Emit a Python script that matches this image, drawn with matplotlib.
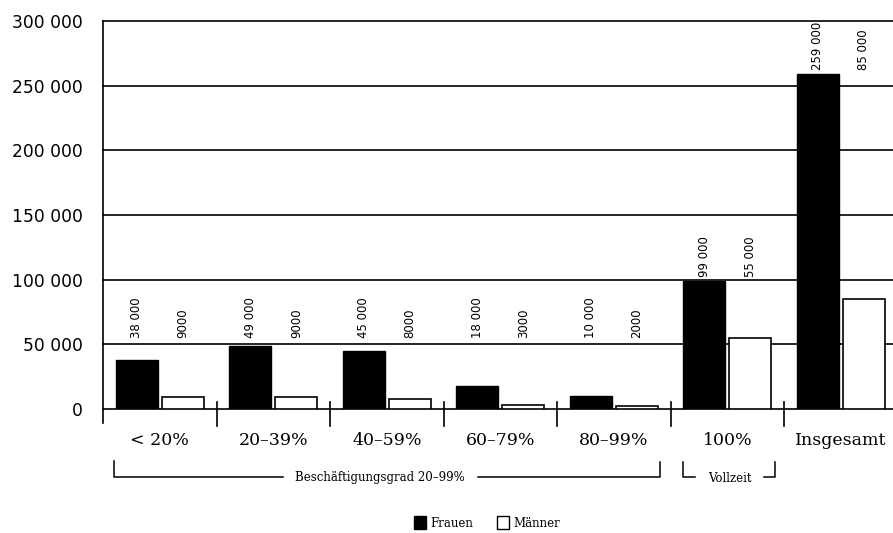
import matplotlib
matplotlib.use("Agg")
import matplotlib.pyplot as plt
import matplotlib.transforms as mtransforms
from matplotlib.patches import Patch
import numpy as np

categories = ["< 20%", "20–39%", "40–59%", "60–79%", "80–99%", "100%", "Insgesamt"]
frauen = [38000, 49000, 45000, 18000, 10000, 99000, 259000]
maenner = [9000, 9000, 8000, 3000, 2000, 55000, 85000]
frauen_labels = ["38 000", "49 000", "45 000", "18 000", "10 000", "99 000", "259 000"]
maenner_labels = ["9000", "9000", "8000", "3000", "2000", "55 000", "85 000"]
yticks = [0, 50000, 100000, 150000, 200000, 250000, 300000]
ytick_labels = ["0", "50 000", "100 000", "150 000", "200 000", "250 000", "300 000"]

W, H = 893, 533
fig = plt.figure(figsize=(W / 100, H / 100), dpi=100)
ax = fig.add_axes([103 / W, 1 - 409 / H, 1 - 103 / W, (409 - 21) / H])

x = np.arange(len(categories))
bw = 0.37
off = 0.203
ax.bar(x - off, frauen, bw, color="black", edgecolor="black", linewidth=1, zorder=3)
ax.bar(x + off, maenner, bw, color="white", edgecolor="black", linewidth=1.2, zorder=3)

for i in range(len(categories)):
    ly = max(55000, max(frauen[i], maenner[i]) + 3000)
    ax.text(x[i] - off, ly, frauen_labels[i], rotation=90, ha="center", va="bottom",
            fontsize=8.5, family="DejaVu Sans")
    ax.text(x[i] + off, ly, maenner_labels[i], rotation=90, ha="center", va="bottom",
            fontsize=8.5, family="DejaVu Sans")

ax.set_xlim(-0.5, 6.46)
ax.set_ylim(0, 300000)
ax.set_yticks(yticks)
ax.set_yticklabels(ytick_labels, fontsize=12.3, family="DejaVu Sans")
ax.tick_params(axis="y", length=0, pad=14.5)
ax.set_xticks([])
for yv in yticks:
    ax.axhline(yv, color="black", linewidth=1.2, zorder=1, clip_on=False)
for s in ["top", "right", "bottom", "left"]:
    ax.spines[s].set_visible(False)

trans = mtransforms.blended_transform_factory(ax.transData, ax.transAxes)
# left axis line extending below zero
ax.plot([-0.5, -0.5], [-0.037, 1.0], color="black", linewidth=1.2, transform=trans, clip_on=False)
# group separators
for b in np.arange(0.5, 6, 1.0):
    ax.plot([b, b], [0.018, -0.045], color="black", linewidth=1.2, transform=trans, clip_on=False)

for i, c in enumerate(categories):
    ax.text(x[i], -0.08, c, ha="center", va="center", fontsize=12.5,
            family="DejaVu Serif", transform=trans)

# brackets
def fx(px):
    return px / W
def fy(py):
    return 1 - py / H

lw = 1.1
fig.add_artist(plt.Line2D([fx(114), fx(114), fx(283)], [fy(461), fy(477), fy(477)], color="black", lw=lw))
fig.add_artist(plt.Line2D([fx(478), fx(660), fx(660)], [fy(477), fy(477), fy(462)], color="black", lw=lw))
fig.text(fx(380), fy(477), "Beschäftigungsgrad 20–99%", ha="center", va="center", fontsize=8.5, family="DejaVu Serif")
fig.add_artist(plt.Line2D([fx(683), fx(683), fx(695)], [fy(462), fy(477), fy(477)], color="black", lw=lw))
fig.add_artist(plt.Line2D([fx(764), fx(775), fx(775)], [fy(477), fy(477), fy(462)], color="black", lw=lw))
fig.text(fx(729.5), fy(478), "Vollzeit", ha="center", va="center", fontsize=8.5, family="DejaVu Serif")

handles = [Patch(facecolor="black", edgecolor="black", label="Frauen"),
           Patch(facecolor="white", edgecolor="black", label="Männer")]
fig.legend(handles=handles, loc="center", bbox_to_anchor=(fx(487), fy(523)), ncol=2,
           frameon=False, handlelength=1.0, handleheight=1.2, handletextpad=0.4,
           columnspacing=2.0, prop={"family": "DejaVu Serif", "size": 8.5})

fig.savefig("out.png", dpi=100)
